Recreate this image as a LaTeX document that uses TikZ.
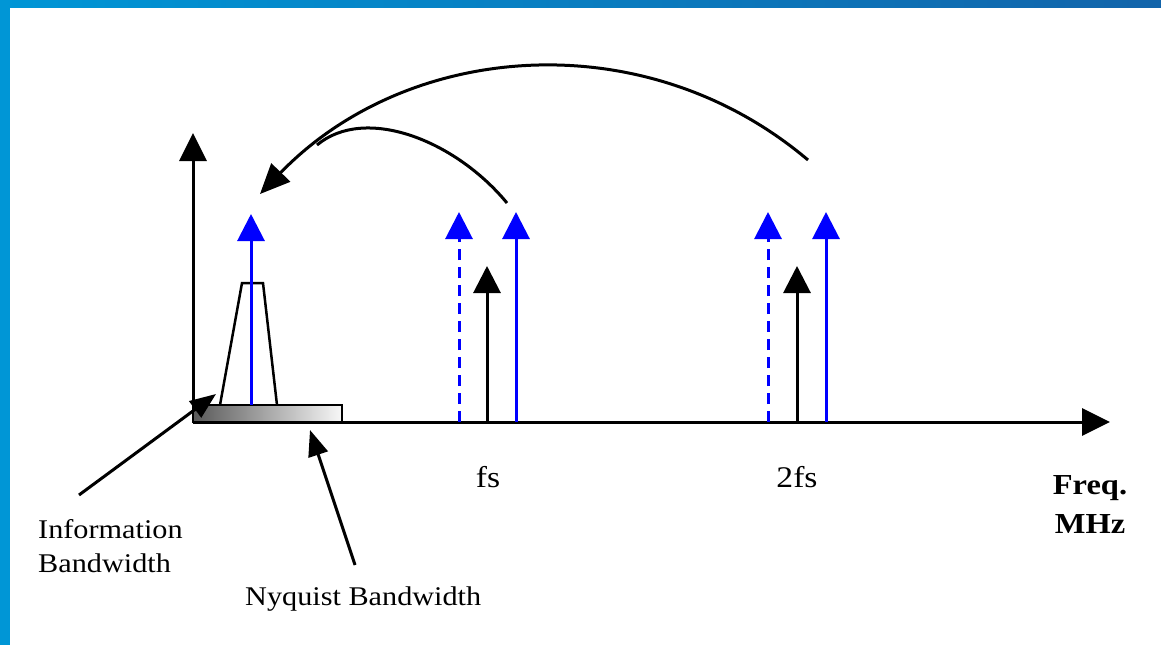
\documentclass[tikz,border=0pt]{standalone}
\usepackage{fontspec}
\setmainfont{Liberation Serif}[FakeStretch=1.12]
\usetikzlibrary{arrows.meta}
\definecolor{barlight}{RGB}{0,150,214}
\definecolor{bardark}{RGB}{18,100,170}
\definecolor{sigblue}{RGB}{0,0,255}
\begin{document}
\begin{tikzpicture}[x=1pt,y=-1pt,
  axis/.style={line width=3pt, -{Triangle[length=28pt,width=27pt]}},
  bluearr/.style={sigblue, line width=3pt, -{Triangle[length=27pt,width=27pt]}},
  bluedash/.style={bluearr, dash pattern=on 11pt off 7pt},
  blackarr/.style={black, line width=3pt, -{Triangle[length=27pt,width=27pt]}},
  pointer/.style={line width=3pt, -{Triangle[length=26pt,width=20pt]}},
  arcline/.style={line width=3pt},
  lbl/.style={inner sep=0pt, font=\fontsize{27}{34}\selectfont},
  fslbl/.style={inner sep=0pt, font=\fontsize{30}{36}\selectfont},
  boldlbl/.style={inner sep=0pt, align=center, font=\fontsize{29}{39}\selectfont\bfseries},
]
\useasboundingbox (0,0) rectangle (1161,645);
\fill[white] (0,0) rectangle (1161,645);
\shade[left color=barlight, right color=bardark] (0,0) rectangle (1161,7);
\fill[barlight] (0,0) rectangle (10,645);

% axes
\coordinate (O) at (193,422);
\coordinate (ytop) at (193,133);
\coordinate (xend) at (1110,422);
\draw[axis] (O) -- (ytop);
\draw[axis] (O) -- (xend);

% Nyquist band
\coordinate (nyqL) at (193,405);
\coordinate (nyqR) at (342,422);
\draw[line width=2.5pt, left color=black!65, right color=black!3] (nyqL) rectangle (nyqR);

% information band (trapezoid)
\coordinate (t1) at (220,405);
\coordinate (t2) at (242,283);
\coordinate (t3) at (263,283);
\coordinate (t4) at (277,405);
\draw[line width=2.5pt] (t1) -- (t2) -- (t3) -- (t4);

% baseband signal
\coordinate (b0s) at (251,405);
\coordinate (b0e) at (251,214);
\draw[bluearr] (b0s) -- (b0e);

% around fs
\coordinate (f1s) at (459,422); \coordinate (f1e) at (459,212);
\coordinate (f2s) at (487,422); \coordinate (f2e) at (487,266);
\coordinate (f3s) at (516,422); \coordinate (f3e) at (516,212);
\draw[bluedash] (f1s) -- (f1e);
\draw[blackarr] (f2s) -- (f2e);
\draw[bluearr] (f3s) -- (f3e);

% around 2fs
\coordinate (g1s) at (768,422); \coordinate (g1e) at (768,212);
\coordinate (g2s) at (797,422); \coordinate (g2e) at (797,266);
\coordinate (g3s) at (826,422); \coordinate (g3e) at (826,212);
\draw[bluedash] (g1s) -- (g1e);
\draw[blackarr] (g2s) -- (g2e);
\draw[bluearr] (g3s) -- (g3e);

% folding arcs
\coordinate (a1s) at (507,203);
\coordinate (a1e) at (317,145);
\draw[arcline] (a1s) .. controls (455,140) and (365,105) .. (a1e);
\coordinate (a2s) at (808,160);
\coordinate (a2e) at (260,194);
\draw[arcline, -{Triangle[length=30pt,width=26pt]}] (a2s) .. controls (645,22) and (408,41) .. (a2e);

% pointers
\coordinate (ip0) at (79,495);
\coordinate (ip1) at (216,394);
\draw[pointer] (ip0) -- (ip1);
\coordinate (np0) at (355,565);
\coordinate (np1) at (310,430);
\draw[pointer] (np0) -- (np1);

% labels
\node[lbl, anchor=north west, align=left] (info) at (38,519) {Information\\Bandwidth};
\node[lbl, anchor=base west] (nyq) at (245,605) {Nyquist Bandwidth};
\node[fslbl, anchor=base] (fs) at (488,487) {fs};
\node[fslbl, anchor=base] (fs2) at (797,487) {2fs};
\node[boldlbl, anchor=north] (freq) at (1090,475) {Freq.\\MHz};
\end{tikzpicture}
\end{document}
